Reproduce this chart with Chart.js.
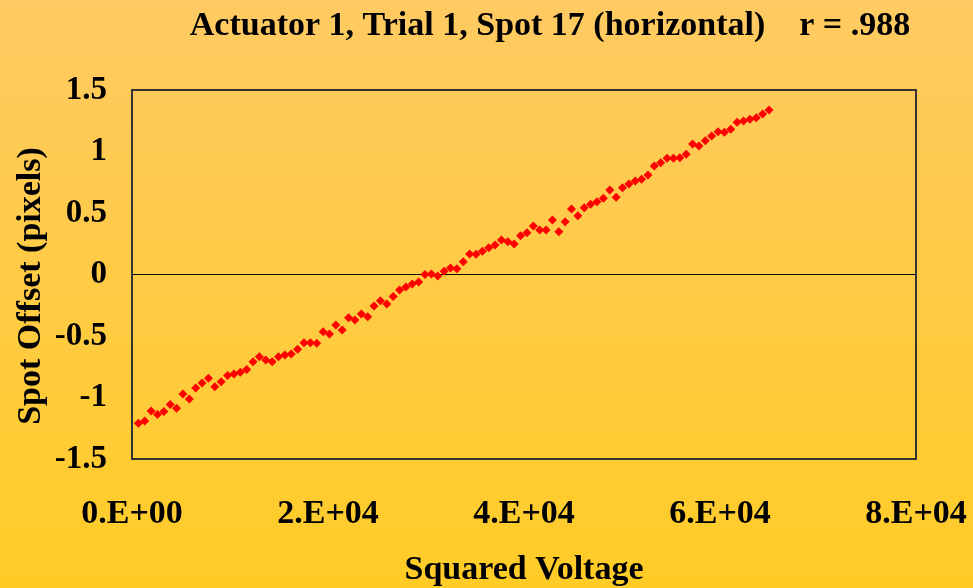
<!DOCTYPE html>
<html>
<head>
<meta charset="utf-8">
<script src="https://cdn.jsdelivr.net/npm/chart.js@4"></script>
<style>
  body { margin: 0; }
  #wrap { width: 973px; height: 588px; position: relative; }
</style>
</head>
<body>
<div id="wrap"><canvas id="offset-chart"></canvas></div>
<script>
// chart text
const chartTitle = "Actuator 1, Trial 1, Spot 17 (horizontal)    r = .988";
const xAxisTitle = "Squared Voltage";
const yAxisTitle = "Spot Offset (pixels)";

// tick labels
const xTickValues = [0, 20000, 40000, 60000, 80000];
const xTickLabels = ["0.E+00", "2.E+04", "4.E+04", "6.E+04", "8.E+04"];
const yTickValues = [-1.5, -1, -0.5, 0, 0.5, 1, 1.5];
const yTickLabels = ["-1.5", "-1", "-0.5", "0", "0.5", "1", "1.5"];

// squared voltage (x)
const squaredVoltage = [
  650, 1300, 1950, 2600, 3250, 3900, 4550, 5200, 5850, 6500,
  7150, 7800, 8450, 9100, 9750, 10400, 11050, 11700, 12350, 13000,
  13650, 14300, 14950, 15600, 16250, 16900, 17550, 18200, 18850, 19500,
  20150, 20800, 21450, 22100, 22750, 23400, 24050, 24700, 25350, 26000,
  26650, 27300, 27950, 28600, 29250, 29900, 30550, 31200, 31850, 32500,
  33150, 33800, 34450, 35100, 35750, 36400, 37050, 37700, 38350, 39000,
  39650, 40300, 40950, 41600, 42250, 42900, 43550, 44200, 44850, 45500,
  46150, 46800, 47450, 48100, 48750, 49400, 50050, 50700, 51350, 52000,
  52650, 53300, 53950, 54600, 55250, 55900, 56550, 57200, 57850, 58500,
  59150, 59800, 60450, 61100, 61750, 62400, 63050, 63700, 64350, 65000,
];

// spot offset in pixels (y)
const spotOffset = [
  -1.210, -1.191, -1.110, -1.138, -1.114, -1.057, -1.088, -0.972, -1.012, -0.923,
  -0.882, -0.844, -0.912, -0.872, -0.821, -0.809, -0.795, -0.772, -0.709, -0.668,
  -0.695, -0.709, -0.668, -0.654, -0.646, -0.608, -0.554, -0.554, -0.559, -0.465,
  -0.484, -0.411, -0.451, -0.351, -0.370, -0.321, -0.343, -0.256, -0.213, -0.240,
  -0.179, -0.126, -0.102, -0.077, -0.061, 0.000, 0.004, -0.012, 0.026, 0.053,
  0.047, 0.104, 0.167, 0.164, 0.189, 0.218, 0.240, 0.280, 0.267, 0.248,
  0.315, 0.340, 0.394, 0.362, 0.362, 0.443, 0.348, 0.429, 0.533, 0.478,
  0.543, 0.571, 0.592, 0.620, 0.687, 0.628, 0.706, 0.736, 0.760, 0.774,
  0.809, 0.882, 0.909, 0.945, 0.945, 0.950, 0.977, 1.061, 1.045, 1.088,
  1.126, 1.161, 1.156, 1.180, 1.237, 1.248, 1.262, 1.275, 1.305, 1.337,
];

const serif = '"Liberation Serif", "Times New Roman", serif';

function buildPoints() {
  const pts = [];
  for (let i = 0; i < squaredVoltage.length; i++) {
    pts.push({ x: squaredVoltage[i], y: spotOffset[i] });
  }
  return pts;
}

function labelFor(values, labels, v) {
  const i = values.findIndex((t) => Math.abs(t - v) < 1e-9);
  return i >= 0 ? labels[i] : "";
}

// yellow-orange gradient behind everything
const backgroundPlugin = {
  id: "bg",
  beforeDraw(chart) {
    const ctx = chart.ctx;
    const g = ctx.createLinearGradient(0, 0, 0, chart.height);
    g.addColorStop(0, "#FFCA62");
    g.addColorStop(1, "#FFCC26");
    ctx.save();
    ctx.fillStyle = g;
    ctx.fillRect(0, 0, chart.width, chart.height);
    ctx.restore();
  },
};

// box round the plot area, the chart title and the y axis title
const framePlugin = {
  id: "frame",
  afterDraw(chart) {
    const ctx = chart.ctx;
    const a = chart.chartArea;
    ctx.save();
    ctx.strokeStyle = "#333";
    ctx.lineWidth = 2;
    ctx.strokeRect(a.left, a.top, a.right - a.left, a.bottom - a.top);
    ctx.fillStyle = "#000";
    ctx.font = "bold 34px " + serif;
    ctx.textAlign = "center";
    ctx.textBaseline = "middle";
    ctx.fillText(chartTitle, 550, 26);
    // y title sits a little below the plot centre in the original
    ctx.translate(31, 286);
    ctx.rotate(-Math.PI / 2);
    ctx.fillText(yAxisTitle, 0, 0);
    ctx.restore();
  },
};

new Chart("offset-chart", {
  type: "scatter",
  data: {
    datasets: [
      {
        data: buildPoints(),
        pointStyle: "rectRot",
        pointRadius: 4.5,
        pointHoverRadius: 4.5,
        pointBackgroundColor: "#FF0000",
        pointBorderColor: "#FF0000",
        pointBorderWidth: 0,
        showLine: false,
      },
    ],
  },
  options: {
    responsive: true,
    maintainAspectRatio: false,
    animation: false,
    layout: { padding: { top: 90, right: 57, bottom: 0, left: 0 } },
    plugins: {
      legend: { display: false },
      tooltip: { enabled: false },
    },
    scales: {
      x: {
        type: "linear",
        min: 0,
        max: 80000,
        afterBuildTicks(scale) {
          scale.ticks = xTickValues.map((v) => ({ value: v }));
        },
        afterFit(scale) {
          scale.height = 129;
          // labels may hang over the edges, keep the plot box where it is
          scale.paddingLeft = 0;
          scale.paddingRight = 0;
        },
        grid: { display: false, drawTicks: false },
        border: { display: false },
        ticks: {
          padding: 35,
          color: "#000",
          maxRotation: 0,
          font: { family: serif, size: 34, weight: "bold" },
          callback: (v) => labelFor(xTickValues, xTickLabels, v),
        },
        title: {
          display: true,
          text: xAxisTitle,
          color: "#000",
          font: { family: serif, size: 34, weight: "bold" },
          padding: { top: 0, bottom: -3 },
        },
      },
      y: {
        type: "linear",
        min: -1.5,
        max: 1.5,
        afterBuildTicks(scale) {
          scale.ticks = yTickValues.map((v) => ({ value: v }));
        },
        afterFit(scale) {
          scale.width = 132;
          scale.paddingTop = 0;
          scale.paddingBottom = 0;
        },
        grid: {
          drawTicks: false,
          lineWidth: 1,
          color: (c) => (c.tick && c.tick.value === 0 ? "#000" : "rgba(0,0,0,0)"),
        },
        border: { display: false },
        ticks: {
          padding: 25,
          color: "#000",
          font: { family: serif, size: 33, weight: "bold" },
          callback: (v) => labelFor(yTickValues, yTickLabels, v),
        },
      },
    },
  },
  plugins: [backgroundPlugin, framePlugin],
});
</script>
</body>
</html>
